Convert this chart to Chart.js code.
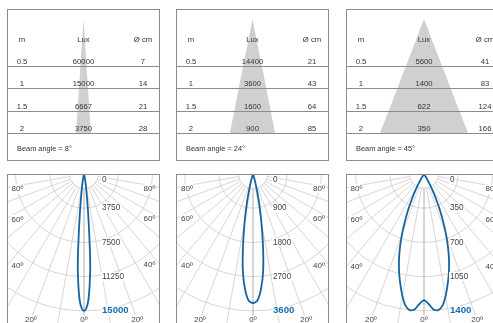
<!doctype html>
<html lang="en">
<head>
<meta charset="utf-8">
<title>Beam angles</title>
<script src="https://cdn.jsdelivr.net/npm/chart.js"></script>
<style>
  body { margin: 0; width: 493px; height: 323px; overflow: hidden; background: #fff; position: relative;
         font-family: "Liberation Sans", Arial, sans-serif; }
  .box { position: absolute; border: 1px solid #8c8c8c; box-sizing: border-box; }
  .polar { overflow: hidden; }
  .rule { position: absolute; height: 0; border-top: 1px solid #8c8c8c; }
  .t { position: absolute; font-size: 7.7px; color: #333; white-space: nowrap; transform: translate(-50%, -50%); }
  .beam { position: absolute; font-size: 7.4px; color: #333; white-space: nowrap; transform: translateY(-50%); }
  canvas { position: absolute; }
</style>
</head>
<body>
<script>
// table data (distance in m, illuminance in lux, spot diameter in cm)
const distances = [0.5, 1, 1.5, 2];
const distanceLabels = ['0.5', '1', '1.5', '2'];
const beamAngles = [8, 24, 45];
const luxNarrow = [60000, 15000, 6667, 3750];
const diamNarrow = [7, 14, 21, 28];
const luxMedium = [14400, 3600, 1600, 900];
const diamMedium = [21, 43, 64, 85];
const luxWide = [5600, 1400, 622, 350];
const diamWide = [41, 83, 124, 166];

// polar diagrams (cd), ring labels
const ticksNarrow = [0, 3750, 7500, 11250, 15000];
const ticksMedium = [0, 900, 1800, 2700, 3600];
const ticksWide = [0, 350, 700, 1050, 1400];
const sideAngleLabels = [80, 60, 40];
const bottomAngleLabels = [20, 0];

// intensity curves (angle from nadir, cd)
const curveAnglesNarrow = [-14, -13, -12, -11, -10, -9, -8, -7, -6, -5, -4, -3, -2, -1, 0,
                           1, 2, 3, 4, 5, 6, 7, 8, 9, 10, 11, 12, 13, 14];
const curveNarrow = [0, 200, 400, 600, 900, 1300, 1900, 2800, 4400, 6600, 9800, 12000, 13800, 14700, 15000,
                     14700, 13800, 12000, 9800, 6600, 4400, 2800, 1900, 1300, 900, 600, 400, 200, 0];
const curveAnglesMedium = [-20, -18, -16, -14, -12, -10, -8, -6, -4, -2, 0, 2, 4, 6, 8, 10, 12, 14, 16, 18, 20];
const curveMedium = [0, 30, 150, 380, 760, 1240, 1880, 2560, 3030, 3330, 3400,
                     3330, 3030, 2560, 1880, 1240, 760, 380, 150, 30, 0];
const curveAnglesWide = [-34, -32, -30, -28, -26, -24, -22, -20, -18, -16, -14, -12, -10, -8, -6, -4, -2, 0,
                         2, 4, 6, 8, 10, 12, 14, 16, 18, 20, 22, 24, 26, 28, 30, 32, 34];
const curveWide = [0, 30, 90, 170, 270, 390, 520, 660, 800, 930, 1050, 1160, 1270, 1360, 1400, 1390, 1330, 1290,
                   1330, 1390, 1400, 1360, 1270, 1160, 1050, 930, 800, 660, 520, 390, 270, 170, 90, 30, 0];

const BLUE = '#15649f';
const GRID = '#cbcbcb';
const AXIS = '#9a9a9a';
const CONE = '#d0d0d0';
const LABEL = '#444';
const FONT = '"Liberation Sans", Arial, sans-serif';

const panels = [
  { left: 7, width: 153, cx: 84, lux: luxNarrow, diam: diamNarrow, beam: beamAngles[0],
    ticks: ticksNarrow, angles: curveAnglesNarrow, values: curveNarrow, labelDx: 18 },
  { left: 176, width: 153, cx: 252.5, lux: luxMedium, diam: diamMedium, beam: beamAngles[1],
    ticks: ticksMedium, angles: curveAnglesMedium, values: curveMedium, labelDx: 20 },
  { left: 346, width: 156, cx: 424, lux: luxWide, diam: diamWide, beam: beamAngles[2],
    ticks: ticksWide, angles: curveAnglesWide, values: curveWide, labelDx: 26 }
];

const R = 171;          // drawing radius of the polar scale (5 rings)
const PX_PER_CM = 0.53; // cone pictogram scale
const ruleY = [66, 88, 111, 133];
const rowY = [60.5, 82.5, 105.5, 127.5];

function el(tag, cls, css, text) {
  const e = document.createElement(tag);
  if (cls) e.className = cls;
  Object.assign(e.style, css);
  if (text !== undefined) e.textContent = text;
  document.body.appendChild(e);
  return e;
}

function label(ctx, text, x, y, font, color, align) {
  ctx.font = font;
  ctx.textAlign = align;
  ctx.textBaseline = 'middle';
  const w = ctx.measureText(text).width;
  const x0 = align === 'left' ? x : align === 'center' ? x - w / 2 : x - w;
  ctx.fillStyle = '#fff';
  ctx.fillRect(x0 - 1, y - 4.5, w + 2, 9);
  ctx.fillStyle = color;
  ctx.fillText(text, x, y);
}

panels.forEach(p => {
  const L = p.left, W = p.width;

  // cone pictogram drawn from the diameter column
  const cone = el('canvas', '', { left: (L + 1) + 'px', top: '19px' });
  cone.width = W - 2; cone.height = 114;
  const pts = [{ x: 0, y: 0 }];
  distances.forEach((m, i) => pts.push({ x: p.diam[i] / 2, y: m }));
  for (let i = distances.length - 1; i >= 0; i--) pts.push({ x: -p.diam[i] / 2, y: distances[i] });
  const xr = (W - 2) / 2 / PX_PER_CM;
  new Chart(cone, {
    type: 'scatter',
    data: { datasets: [{ data: pts, showLine: true, fill: 'shape', backgroundColor: CONE,
                         borderColor: 'transparent', borderWidth: 0, pointRadius: 0 }] },
    options: {
      responsive: false, animation: false, devicePixelRatio: 1, events: [],
      layout: { padding: 0 },
      plugins: { legend: { display: false }, tooltip: { enabled: false } },
      scales: {
        x: { type: 'linear', display: false, min: -xr, max: xr },
        y: { type: 'linear', display: false, min: 0, max: 2, reverse: true }
      }
    }
  });

  ruleY.forEach(y => el('div', 'rule', { left: L + 'px', top: y + 'px', width: W + 'px' }));

  const colM = L + 15, colLux = L + W / 2, colD = L + W - 17;
  el('div', 't', { left: colM + 'px', top: '38.5px' }, 'm');
  el('div', 't', { left: colLux + 'px', top: '38.5px' }, 'Lux');
  el('div', 't', { left: colD + 'px', top: '38.5px' }, 'Ø cm');
  distanceLabels.forEach((d, i) => {
    el('div', 't', { left: colM + 'px', top: rowY[i] + 'px' }, d);
    el('div', 't', { left: colLux + 'px', top: rowY[i] + 'px' }, String(p.lux[i]));
    el('div', 't', { left: colD + 'px', top: rowY[i] + 'px' }, String(p.diam[i]));
  });
  el('div', 'beam', { left: (L + 10) + 'px', top: '148px' }, 'Beam angle = ' + p.beam + '°');
  el('div', 'box', { left: L + 'px', top: '9px', width: W + 'px', height: '152px' });

  // polar diagram
  const frame = el('div', 'box polar', { left: L + 'px', top: '174px', width: W + 'px', height: '160px' });
  const cv = document.createElement('canvas');
  cv.width = 2 * R; cv.height = 2 * R;
  cv.style.left = (p.cx - R - (L + 1)) + 'px';
  cv.style.top = (-R - 1) + 'px';
  frame.appendChild(cv);

  const labels = Array.from({ length: 360 }, (_, i) => i);
  const data = new Array(360).fill(null);
  p.angles.forEach((a, k) => { data[(a + 360) % 360] = p.values[k]; });
  const step = p.ticks[1];
  const hwL = p.cx - (L + 1), hwR = (L + W - 1) - p.cx;

  const deco = {
    id: 'deco',
    beforeDatasetsDraw(chart) {
      const s = chart.scales.r, ctx = chart.ctx;
      ctx.save();
      ctx.beginPath();
      ctx.arc(s.xCenter, s.yCenter, 14.5, 0, Math.PI * 2);
      ctx.fillStyle = '#fff';
      ctx.fill();
      ctx.strokeStyle = GRID;
      ctx.lineWidth = 0.8;
      ctx.stroke();
      ctx.restore();
    },
    afterDatasetsDraw(chart) {
      const s = chart.scales.r, ctx = chart.ctx;
      const xc = s.xCenter, yc = s.yCenter;
      ctx.save();
      p.ticks.forEach((v, i) => {
        const last = i === p.ticks.length - 1;
        const y = v === 0 ? yc + 6 : yc + s.getDistanceFromCenterForValue(v);
        label(ctx, String(v), xc + p.labelDx, y,
              (last ? 'bold 9.6px ' : '8.2px ') + FONT, last ? '#1a6cad' : LABEL, 'left');
      });
      sideAngleLabels.forEach(a => {
        const t = Math.tan(a * Math.PI / 180);
        label(ctx, a + 'º', xc - hwL + 9.5, yc + hwL / t + 1.5, '8px ' + FONT, LABEL, 'center');
        label(ctx, a + 'º', xc + hwR - 9.5, yc + hwR / t + 1.5, '8px ' + FONT, LABEL, 'center');
      });
      bottomAngleLabels.forEach(a => {
        const dx = 146 * Math.tan(a * Math.PI / 180);
        label(ctx, a + 'º', xc - dx, yc + 146, '8px ' + FONT, LABEL, 'center');
        if (a !== 0) label(ctx, a + 'º', xc + dx, yc + 146, '8px ' + FONT, LABEL, 'center');
      });
      ctx.restore();
    }
  };

  new Chart(cv, {
    type: 'radar',
    data: { labels, datasets: [{ data, borderColor: BLUE, borderWidth: 1.8, pointRadius: 0,
                                 fill: false, spanGaps: true, tension: 0.25 }] },
    options: {
      responsive: false, animation: false, devicePixelRatio: 1, events: [],
      plugins: { legend: { display: false }, tooltip: { enabled: false } },
      scales: {
        r: {
          min: 0, max: step * 5, startAngle: 180,
          ticks: { display: false, stepSize: step },
          pointLabels: { display: false },
          grid: { circular: true, color: GRID, lineWidth: 0.8 },
          angleLines: {
            color: c => c.index === 0 ? AXIS : GRID,
            lineWidth: c => c.index % 10 === 0 ? 0.8 : 0
          }
        }
      }
    },
    plugins: [deco]
  });
});
</script>
</body>
</html>
